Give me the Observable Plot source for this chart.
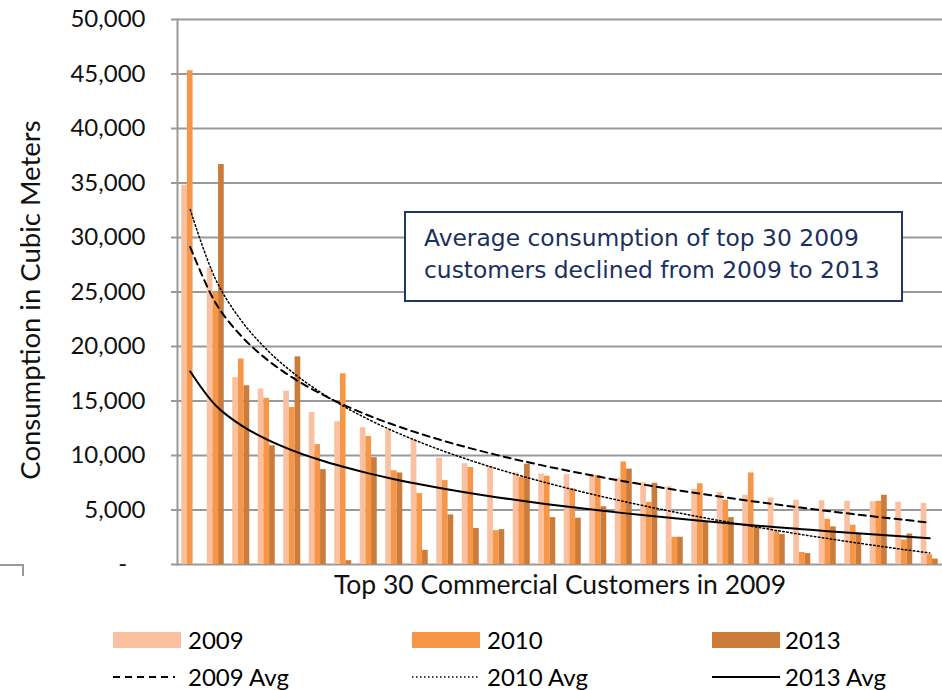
<!DOCTYPE html>
<html>
<head>
<meta charset="utf-8">
<script src="https://cdn.jsdelivr.net/npm/d3@7"></script>
<script src="https://cdn.jsdelivr.net/npm/@observablehq/plot@0.6"></script>
<style>
  html, body { margin: 0; padding: 0; background: #fff; }
  #wrap { position: relative; width: 942px; height: 690px; overflow: hidden; font-family: Lato, "DejaVu Sans", sans-serif; }
  #chart { position: absolute; left: 0; top: 0; }
  .note { position: absolute; left: 404px; top: 211px; width: 495px; height: 87px; border: 2px solid #1F3864; background: #fff; color: #1A3060; font-family: "DejaVu Sans", sans-serif; font-size: 23.4px; line-height: 32px; box-sizing: content-box; }
  .note div { padding-left: 18px; white-space: nowrap; }
  .lg { position: absolute; font-size: 24px; color: #000; line-height: 24px; }
  .sw { position: absolute; height: 16px; width: 68px; }
  .bracket { position: absolute; left: 0; top: 564px; width: 22px; height: 10px; border-top: 2px solid #999; border-right: 2px solid #999; }
</style>
</head>
<body>
<div id="wrap">
  <div id="chart"></div>
  <div class="bracket"></div>
  <div class="note">
    <div style="margin-top:9px">Average consumption of top 30 2009</div>
    <div>customers declined from 2009 to 2013</div>
  </div>
  <div id="legend"></div>
</div>
<script>
// ---- data ----
const customers = d3.range(1, 31);
const seriesNames = ["2009", "2010", "2013"];
const avgNames = ["2009 Avg", "2010 Avg", "2013 Avg"];
const v2009 = [34800, 27200, 17150, 16100, 15900, 13950, 13100, 12550, 12350, 11500,
               9750, 9250, 9000, 8400, 8300, 8250, 8150, 7900, 7500, 7150,
               6900, 6600, 6350, 6100, 5900, 5850, 5800, 5750, 5700, 5600];
const v2010 = [45300, 25000, 18850, 15250, 14400, 11000, 17500, 11750, 8600, 6500,
               7700, 8900, 3100, 8000, 8100, 6950, 8150, 9400, 5700, 2500,
               7400, 5900, 8400, 3050, 1100, 4150, 3600, 5800, 2250, 900];
const v2013 = [0, 36700, 16400, 10900, 19050, 8700, 350, 9800, 8400, 1300,
               4550, 3300, 3200, 9200, 4300, 4250, 5300, 8750, 7450, 2500,
               3900, 4300, 3400, 2750, 1000, 3450, 2750, 6350, 2800, 500];
const yTicks = [0, 5000, 10000, 15000, 20000, 25000, 30000, 35000, 40000, 45000, 50000];
const xTitle = "Top 30 Commercial Customers in 2009";
const yTitle = "Consumption in Cubic Meters";

// ---- styles ----
const colors = ["#FAC09F", "#F79646", "#CC7C3A"];
const dashes = ["7,5", "1.5,2.5", null];
const lineWidths = [2, 1.5, 2];

const values = [v2009, v2010, v2013];
const rows = values.map((vals, s) => customers.map((c, i) => ({customer: c, series: seriesNames[s], value: vals[i]})));

// logarithmic trendline (least squares on ln(customer rank)), as in the original spreadsheet
function logTrend(vals) {
  const lx = customers.map(Math.log);
  const mx = d3.mean(lx), my = d3.mean(vals);
  const b = d3.sum(lx, (x, i) => (x - mx) * (vals[i] - my)) / d3.sum(lx, x => (x - mx) ** 2);
  const a = my - b * mx;
  return customers.map(c => ({customer: c, value: a + b * Math.log(c)}));
}
const trends = values.map(logTrend);

const W = 942, H = 605, ML = 177, MR = 0, MT = 19, MB = 41;
const band = (W - ML - MR) / customers.length;
const barW = 5.67;
const inset = (band - barW) / 2;

const fmt = d => d === 0 ? "-\u00a0\u00a0\u00a0" : d3.format(",")(d);

const plot = Plot.plot({
  width: W, height: H,
  marginLeft: ML, marginRight: MR, marginTop: MT, marginBottom: MB,
  style: {fontFamily: "Lato, 'DejaVu Sans', sans-serif", fontSize: "24px", color: "#000", background: "transparent", overflow: "visible"},
  x: {type: "band", domain: customers, padding: 0, round: false, axis: null},
  y: {domain: [0, 50000], axis: null},
  marks: [
    Plot.gridY(yTicks, {stroke: "#999", strokeOpacity: 1, strokeWidth: 2}),
    Plot.axisY(yTicks, {tickSize: 6, tickPadding: 26, tickFormat: fmt, stroke: "#999", strokeWidth: 2, fill: "#111", fontSize: 24, label: null}),
    ...rows.map((r, s) => Plot.barY(r, {x: "customer", y: "value", fill: colors[s], insetLeft: inset, insetRight: inset, dx: (s - 1) * barW})),
    ...trends.map((t, s) => Plot.line(t, {x: "customer", y: "value", stroke: "#000", strokeWidth: lineWidths[s], strokeDasharray: dashes[s], curve: "catmull-rom"})),
    Plot.frame({anchor: "left", stroke: "#999", strokeWidth: 2}),
    Plot.text([xTitle], {frameAnchor: "bottom", lineAnchor: "middle", textAnchor: "middle", dy: 21, fontSize: 26.5, fill: "#111"}),
    Plot.text([yTitle], {frameAnchor: "left", textAnchor: "middle", lineAnchor: "middle", dx: -146, dy: 8, rotate: -90, fontSize: 27.5, fill: "#111"})
  ]
});
document.getElementById("chart").appendChild(plot);

// ---- legend ----
const legend = document.getElementById("legend");
const colX = [113, 412, 712];
const textX = [188, 487, 785];
seriesNames.forEach((n, s) => {
  const sw = document.createElement("div");
  sw.className = "sw";
  sw.style.left = colX[s] + "px"; sw.style.top = "632px"; sw.style.background = colors[s];
  legend.appendChild(sw);
  const t = document.createElement("div");
  t.className = "lg"; t.textContent = n;
  t.style.left = textX[s] + "px"; t.style.top = "628px";
  legend.appendChild(t);
});
avgNames.forEach((n, s) => {
  const svg = d3.create("svg").attr("width", 70).attr("height", 6)
    .style("position", "absolute").style("left", colX[s] + "px").style("top", "674px");
  svg.append("line").attr("x1", 0).attr("x2", s === 0 ? 62 : 68).attr("y1", 3).attr("y2", 3)
    .attr("stroke", "#000").attr("stroke-width", lineWidths[s])
    .attr("stroke-dasharray", dashes[s]);
  legend.appendChild(svg.node());
  const t = document.createElement("div");
  t.className = "lg"; t.textContent = n;
  t.style.left = textX[s] + "px"; t.style.top = "665px";
  legend.appendChild(t);
});
</script>
</body>
</html>
